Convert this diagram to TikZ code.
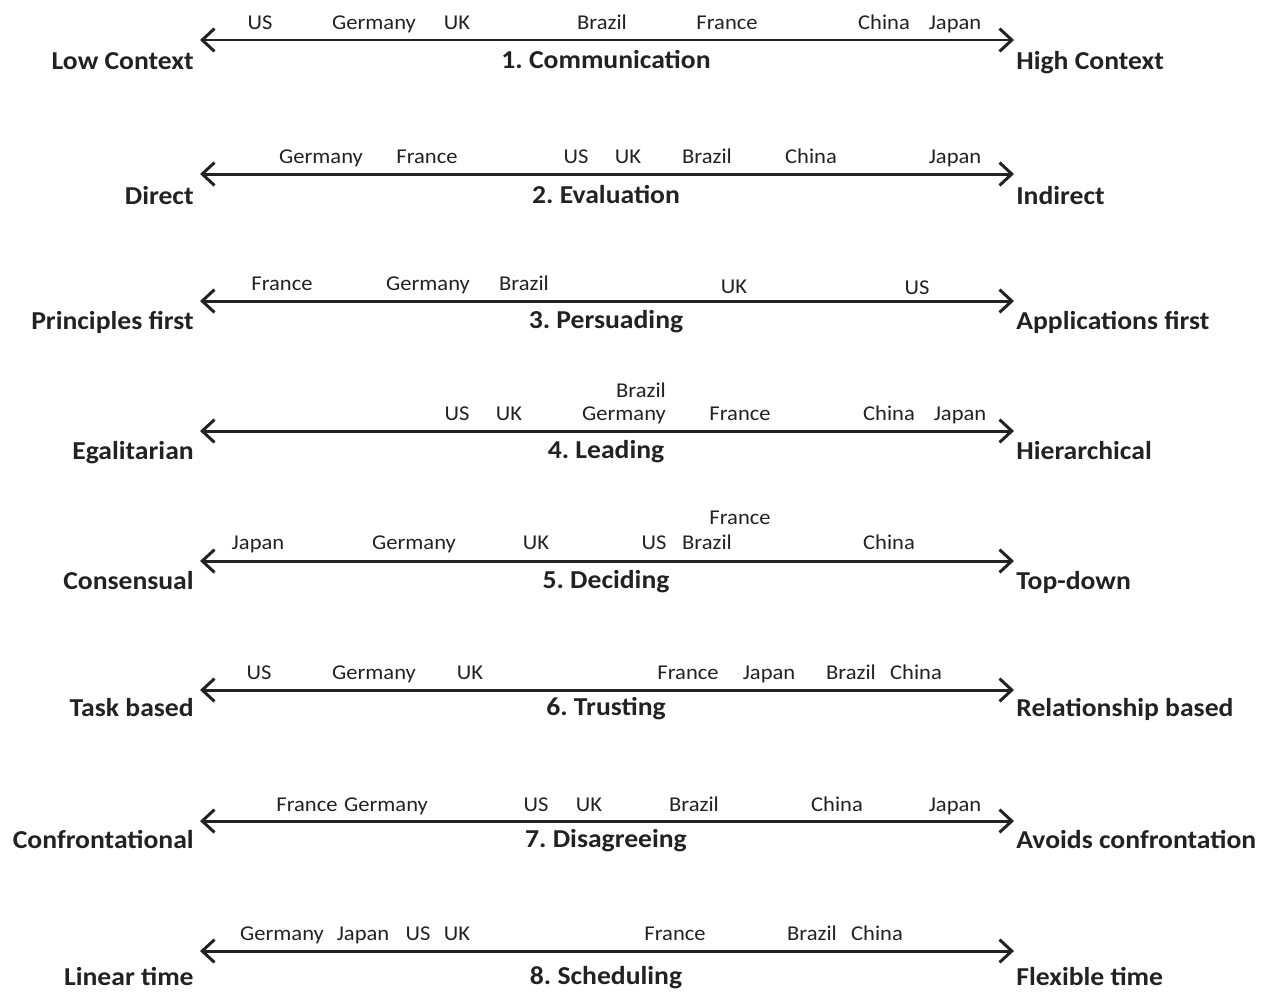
\documentclass[tikz,border=0pt]{standalone}
\usepackage{fontspec}
\setmainfont{Carlito}[FakeStretch=1.07]
\usetikzlibrary{arrows.meta}
\definecolor{inkDark}{HTML}{222222}
\frenchspacing

\begin{document}
\begin{tikzpicture}[x=0.02cm, y=-0.02cm,
    axisline/.style={line width=1.7pt, draw=inkDark,
                  {Straight Barb[length=7pt, width=13pt, line width=1.7pt]}-{Straight Barb[length=7pt, width=13pt, line width=1.7pt]}},
    pole/.style={font=\fontsize{14.7}{16}\selectfont\bfseries, text=inkDark, inner sep=0pt},
    dim/.style={font=\fontsize{14.7}{16}\selectfont\bfseries, text=inkDark, inner sep=0pt, anchor=base},
    ctry/.style={font=\fontsize{12}{14}\selectfont, text=inkDark, inner sep=0pt, anchor=base},
  ]
    \useasboundingbox (0,0) rectangle (1266,991);

    % the eight scales
    \foreach \n/\ly/\ty/\lab/\lotext/\hitext in {
        1/40/69/Communication/Low Context/High Context,
        2/174/204/Evaluation/Direct/Indirect,
        3/301/329/Persuading/Principles first/Applications first,
        4/431/459/Leading/Egalitarian/Hierarchical,
        5/561/589/Deciding/Consensual/Top-down,
        6/690/716/Trusting/Task based/Relationship based,
        7/821/848/Disagreeing/Confrontational/Avoids confrontation,
        8/951/985/Scheduling/Linear time/Flexible time} {
      \coordinate (l\n) at (200,\ly);
      \coordinate (r\n) at (1014,\ly);
      \draw[axisline] (l\n) -- (r\n);
      \node[pole, anchor=base east] (lo\n) at (194,\ty) {\lotext};
      \node[pole, anchor=base west] (hi\n) at (1016,\ty) {\hitext};
      \node[dim] (t\n) at (606,\ty-1) {\n. \lab};
    }

    % 1. Communication
    \foreach \c/\x [count=\k] in {US/260, Germany/374, UK/457, Brazil/602,
        France/727, China/884, Japan/955}
      \node[ctry] (a\k) at (\x,29) {\c};
    % 2. Evaluation
    \foreach \c/\x [count=\k] in {Germany/321, France/427, US/576, UK/628,
        Brazil/707, China/811, Japan/955}
      \node[ctry] (b\k) at (\x,163) {\c};
    % 3. Persuading
    \foreach \c/\x/\y [count=\k] in {France/282/290, Germany/428/290,
        Brazil/524/290, UK/734/293, US/917/294}
      \node[ctry] (c\k) at (\x,\y) {\c};
    % 4. Leading
    \foreach \c/\x/\y [count=\k] in {US/457/420, UK/509/420, Germany/624/420,
        Brazil/641/397, France/740/420, China/889/420, Japan/960/420}
      \node[ctry] (d\k) at (\x,\y) {\c};
    % 5. Deciding
    \foreach \c/\x/\y [count=\k] in {Japan/258/549, Germany/414/549, UK/536/549,
        US/654/549, Brazil/707/549, France/740/524, China/889/549}
      \node[ctry] (e\k) at (\x,\y) {\c};
    % 6. Trusting
    \foreach \c/\x [count=\k] in {US/259, Germany/374, UK/470, France/688,
        Japan/769, Brazil/851, China/916}
      \node[ctry] (f\k) at (\x,679) {\c};
    % 7. Disagreeing
    \foreach \c/\x [count=\k] in {France/307, Germany/386, US/536, UK/589,
        Brazil/694, China/837, Japan/955}
      \node[ctry] (g\k) at (\x,811) {\c};
    % 8. Scheduling
    \foreach \c/\x [count=\k] in {Germany/282, Japan/363, US/418, UK/457,
        France/675, Brazil/812, China/877}
      \node[ctry] (h\k) at (\x,940) {\c};
  \end{tikzpicture}
\end{document}
